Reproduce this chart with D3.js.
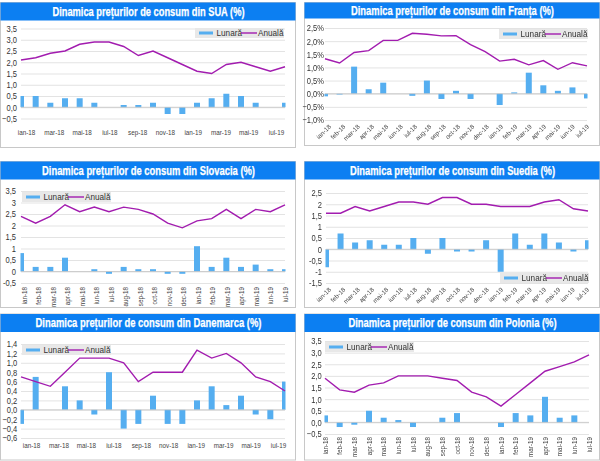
<!DOCTYPE html>
<html>
<head>
<meta charset="utf-8">
<script src="https://cdn.jsdelivr.net/npm/d3@7"></script>
<style>
  body { margin: 0; background: #fff; }
  svg { display: block; filter: blur(0.3px); }
  text { font-family: "Liberation Sans", Arial, sans-serif; }
  .title { font-weight: bold; fill: #fff; stroke: #fff; stroke-width: 0.25px; }
</style>
</head>
<body>
<svg id="chart" width="600" height="461"></svg>
<script>
const months = ["ian-18","feb-18","mar-18","apr-18","mai-18","iun-18","iul-18","aug-18","sep-18","oct-18","nov-18","dec-18","ian-19","feb-19","mar-19","apr-19","mai-19","iun-19","iul-19"];

const suaLunara = [0.5,0.5,0.2,0.4,0.4,0.2,0,0.1,0.1,0.2,-0.3,-0.3,0.2,0.4,0.6,0.5,0.2,0,0.2];
const suaAnuala = [2.1,2.2,2.4,2.5,2.8,2.9,2.9,2.7,2.3,2.5,2.2,1.9,1.6,1.5,1.9,2.0,1.8,1.6,1.8];
const frantaLunara = [-0.1,-0.03,1.03,0.17,0.42,0,-0.08,0.5,-0.2,0.11,-0.2,0,-0.43,0.05,0.8,0.32,0.11,0.24,-0.18];
const frantaAnuala = [1.33,1.17,1.57,1.64,2.03,2.03,2.3,2.26,2.2,2.21,1.87,1.6,1.24,1.31,1.1,1.26,0.93,1.18,1.06];
const slovaciaLunara = [0.8,0.2,0.2,0.6,0,0.1,-0.1,0.2,0.1,0.1,-0.1,-0.1,1.1,0.2,0.6,0.2,0.3,0.1,0.1];
const slovaciaAnuala = [2.4,2.1,2.4,2.9,2.6,2.8,2.6,2.8,2.7,2.5,2.1,1.9,2.2,2.3,2.7,2.3,2.7,2.6,2.9];
const suediaLunara = [-0.8,0.7,0.3,0.4,0.2,0.2,0.5,-0.2,0.5,-0.1,-0.1,0.4,-1,0.7,0.2,0.7,0.3,-0.1,0.4];
const suediaAnuala = [1.6,1.6,1.9,1.7,1.9,2.1,2.1,2.0,2.3,2.3,2.0,2.0,1.9,1.9,1.9,2.1,2.2,1.8,1.7];
const danemarcaLunara = [-0.3,0.7,0,0.5,0.2,-0.1,0.8,-0.4,-0.3,0.3,-0.3,-0.3,0.2,0.5,0.1,0.3,-0.1,-0.2,0.6];
const danemarcaAnuala = [0.7,0.6,0.5,0.8,1.1,1.1,1.1,1.0,0.6,0.8,0.8,0.8,1.27,1.1,1.2,1.0,0.7,0.6,0.4];
const poloniaLunara = [0.3,-0.2,-0.1,0.5,0.2,0.1,-0.2,0,0.2,0.4,0,0,-0.2,0.4,0.3,1.1,0.2,0.3,0];
const poloniaAnuala = [1.9,1.4,1.3,1.6,1.7,2,2,2,1.9,1.8,1.3,1.1,0.7,1.2,1.7,2.2,2.4,2.6,2.9];

const comma = (d) => d3.format(".1f")(d).replace(".", ",");
const plain = (d) => String(d).replace(".", ",");
const percent = (d) => comma(d) + "%";

// all boxes below are in page pixels
const panels = [
  { name: "SUA", lunara: suaLunara, anuala: suaAnuala, dom: [-0.5, 3.5], step: 0.5, fmt: comma, yPad: 4,
    x0: 0, y0: 2.5, h: 145, titleH: 18, titleW: 192, px: [21, 285], py: [28.5, 118.5], legend: [195, 28],
    labels: "flat", labelRange: [26, 276], labelY: 16 },
  { name: "Franța", lunara: frantaLunara, anuala: frantaAnuala, dom: [-1, 2.5], step: 0.5, fmt: percent, yPad: 1,
    x0: 304, y0: 2.5, h: 143, titleH: 16, titleW: 203, px: [325, 587], py: [28, 120], legend: [499, 29],
    labels: "slant", labelRange: [330, 588], labelY: 7 },
  { name: "Slovacia", lunara: slovaciaLunara, anuala: slovaciaAnuala, dom: [-0.5, 3.5], step: 0.5, fmt: plain, yPad: 5,
    x0: 0, y0: 161.5, h: 146, titleH: 18, titleW: 213, px: [21, 285], py: [191, 283], legend: [22, 192],
    labels: "vert", labelRange: [23.5, 284.5], labelY: 4 },
  { name: "Suedia", lunara: suediaLunara, anuala: suediaAnuala, dom: [-1.5, 2.5], step: 0.5, fmt: plain, yPad: 4,
    x0: 304, y0: 161.5, h: 146, titleH: 18, titleW: 205, px: [326, 588], py: [193, 283], legend: [500, 273],
    labels: "slant", labelRange: [330, 588], labelY: 7 },
  { name: "Danemarca", lunara: danemarcaLunara, anuala: danemarcaAnuala, dom: [-0.6, 1.4], step: 0.2, fmt: comma, yPad: 3.7,
    x0: 0, y0: 314, h: 146, titleH: 18, titleW: 226, px: [21, 285], py: [344, 438], legend: [22, 345],
    labels: "flat", labelRange: [31, 278], labelY: 10 },
  { name: "Polonia", lunara: poloniaLunara, anuala: poloniaAnuala, dom: [-0.5, 3.5], step: 0.5, fmt: comma, yPad: 3.3,
    x0: 304, y0: 314, h: 146, titleH: 18, titleW: 208, px: [325, 589], py: [341, 434], legend: [325, 342],
    labels: "vert", labelRange: [324.5, 588.5], labelY: 3 },
];

const svg = d3.select("#chart");
const panelWidth = 295;
const barColor = "#55aef0";
const lineColor = "#a21caf";

panels.forEach((p, i) => {
  const g = svg.append("g");

  g.append("rect")
    .attr("x", p.x0 + 0.5).attr("y", p.y0)
    .attr("width", panelWidth).attr("height", p.h)
    .attr("fill", "#fff").attr("stroke", "#c8c8c8").attr("stroke-width", 1);
  g.append("rect")
    .attr("x", p.x0 + 0.5).attr("y", p.y0)
    .attr("width", panelWidth).attr("height", p.titleH)
    .attr("fill", "#0c7ff2");
  g.append("text").attr("class", "title")
    .attr("x", p.x0 + 148.5).attr("y", p.y0 + p.titleH / 2 + 4)
    .attr("text-anchor", "middle").attr("font-size", 12)
    .attr("textLength", p.titleW).attr("lengthAdjust", "spacingAndGlyphs")
    .text(`Dinamica prețurilor de consum din ${p.name} (%)`);

  const x = d3.scalePoint().domain(months).range(p.px);
  const y = d3.scaleLinear().domain(p.dom).range([p.py[1], p.py[0]]);
  const yTicks = d3.range(p.dom[0], p.dom[1] + p.step / 2, p.step).map((d) => +d.toFixed(1));

  const yAxis = g.append("g")
    .attr("transform", `translate(${p.px[0]},0)`)
    .call(d3.axisLeft(y).tickValues(yTicks).tickSize(0).tickFormat(p.fmt));
  yAxis.select(".domain").remove();
  yAxis.selectAll("text")
    .attr("x", 0)
    .attr("font-size", 9.2).attr("fill", "#333")
    .attr("transform", `translate(${-p.yPad},0) scale(0.82,1)`);
  yAxis.selectAll("line")
    .attr("x2", p.px[1] - p.px[0])
    .attr("stroke", "#dcdcdc").attr("stroke-width", 0.8);

  const clipId = `clip${i}`;
  g.append("clipPath").attr("id", clipId).append("rect")
    .attr("x", p.px[0] - 0.5).attr("y", p.py[0])
    .attr("width", p.px[1] - p.px[0] + 1).attr("height", p.py[1] - p.py[0]);

  const barW = 6;
  g.append("g").attr("clip-path", `url(#${clipId})`)
    .selectAll("rect").data(p.lunara).join("rect")
    .attr("x", (d, j) => x(months[j]) - barW / 2)
    .attr("y", (d) => y(Math.max(d, 0)))
    .attr("width", barW)
    .attr("height", (d) => Math.abs(y(d) - y(0)))
    .attr("fill", barColor);

  // zero line sits over the bars
  g.append("line")
    .attr("x1", p.px[0]).attr("x2", p.px[1])
    .attr("y1", y(0)).attr("y2", y(0))
    .attr("stroke", "#c4c4c4").attr("stroke-width", 0.8);

  g.append("path")
    .datum(p.anuala)
    .attr("fill", "none").attr("stroke", lineColor).attr("stroke-width", 1.4)
    .attr("d", d3.line().x((d, j) => x(months[j])).y((d) => y(d)));

  // the x labels drift a little from the ticks in the original, so they get their own scale
  const labels = p.labels === "flat" ? months.filter((m, j) => j % 2 === 0) : months;
  const xLabel = d3.scalePoint().domain(labels).range(p.labelRange);
  const xAxis = g.append("g")
    .attr("transform", `translate(0,${p.py[1]})`)
    .call(d3.axisBottom(xLabel).tickSize(0));
  xAxis.select(".domain").remove();
  const tickText = xAxis.selectAll("text").attr("fill", "#444").attr("font-size", 6.3);
  if (p.labels === "flat") {
    tickText.attr("y", p.labelY).attr("dy", 0).attr("text-anchor", "middle");
  } else if (p.labels === "slant") {
    tickText.attr("text-anchor", "end").attr("y", 0).attr("dy", 0)
      .attr("transform", `translate(1,${p.labelY}) rotate(-45)`);
  } else {
    tickText.attr("text-anchor", "end").attr("y", 0).attr("dy", 0)
      .attr("transform", `translate(2.5,${p.labelY}) rotate(-90)`);
  }

  // legend
  const [lx, ly] = p.legend;
  const lg = g.append("g").attr("transform", `translate(${lx},${ly})`);
  lg.append("rect").attr("width", 89).attr("height", 10).attr("fill", "#e8e8e8");
  lg.append("rect").attr("x", 4).attr("y", 3.5).attr("width", 14).attr("height", 3).attr("fill", barColor);
  lg.append("text").attr("x", 21.5).attr("y", 8.2).attr("font-size", 8.2).attr("fill", "#333").text("Lunară");
  lg.append("line").attr("x1", 46).attr("x2", 62).attr("y1", 5).attr("y2", 5)
    .attr("stroke", lineColor).attr("stroke-width", 1.4);
  lg.append("text").attr("x", 63).attr("y", 8.2).attr("font-size", 8.2).attr("fill", "#333").text("Anuală");
});
</script>
</body>
</html>
